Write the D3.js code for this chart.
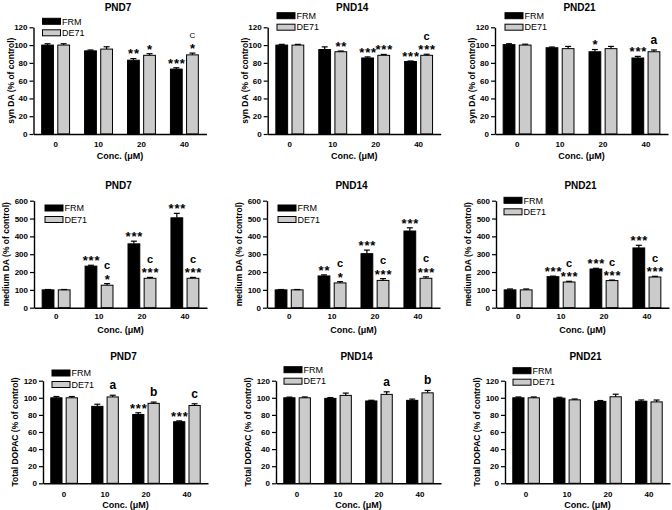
<!DOCTYPE html>
<html><head><meta charset="utf-8">
<script src="https://cdn.jsdelivr.net/npm/d3@7"></script>
<style>
body{margin:0;background:#fff}
svg{display:block}
text{font-family:"Liberation Sans",Arial,Helvetica,sans-serif}
</style>
</head><body>
<svg id="chart" width="672" height="510"></svg>
<script>
// ---------- data ----------
const categories = ["0", "10", "20", "40"];
const seriesNames = ["FRM", "DE71"];
const ages = ["PND7", "PND14", "PND21"];
const measureLabels = ["syn DA (% of control)", "medium DA (% of control)", "Total DOPAC (% of control)"];
const xAxisLabel = "Conc. (\u03bcM)";
const yTicksSyn = [0, 20, 40, 60, 80, 100, 120];
const yTicksMedium = [0, 100, 200, 300, 400, 500, 600];
const yTicksDopac = [0, 20, 40, 60, 80, 100, 120];

// rows: PND7, PND14, PND21 ; columns: 0, 10, 20, 40 µM
const synFRM      = [[100, 93.5, 83, 73], [100, 95, 85.5, 81.5], [100.5, 97, 92.5, 85.5]];
const synFRMErr   = [[1.5, 1, 1.8, 1.5], [0.8, 3, 1.2, 0.6], [1, 0.8, 2.5, 1.8]];
const synDE71     = [[100, 95.5, 88.5, 89], [100, 92.5, 88.5, 88.5], [100, 96, 96, 92.5]];
const synDE71Err  = [[1.5, 2.6, 1.8, 2], [0.8, 0.8, 1, 1.2], [1, 2.5, 2.5, 2]];
const synFRMSig   = [["", "", "**", "***"], ["", "", "***", "***"], ["", "", "*", "***"]];
const synDE71Sig  = [["", "", "*", "*"], ["", "**", "***", "***"], ["", "", "", ""]];
const synDE71Let  = [["", "", "", "C"], ["", "", "", "c"], ["", "", "", "a"]];

const medFRM      = [[100, 233, 358, 504], [100, 178, 303, 430], [100, 174, 217, 335]];
const medFRMErr   = [[2, 5, 15, 25], [2, 6, 20, 18], [5, 3, 4, 15]];
const medDE71     = [[100, 126, 165, 165], [100, 139, 153, 165], [100, 144, 152, 172]];
const medDE71Err  = [[2, 9, 5, 5], [2, 7, 10, 8], [5, 4, 3, 4]];
const medFRMSig   = [["", "***", "***", "***"], ["", "**", "***", "***"], ["", "***", "***", "***"]];
const medDE71Sig  = [["", "*", "***", "***"], ["", "*", "***", "***"], ["", "***", "***", "***"]];
const medDE71Let  = [["", "c", "c", "c"], ["", "c", "c", "c"], ["", "c", "c", "c"]];

const dopFRM      = [[100, 90, 80.5, 72], [100, 99.3, 96.3, 97], [100, 99.6, 95.8, 96]];
const dopFRMErr   = [[1.5, 2.5, 2, 1], [0.8, 1, 0.8, 1.5], [1, 1, 1, 1.5]];
const dopDE71     = [[100, 101, 93.5, 91], [100, 102.8, 104, 105.8], [100, 97.6, 101.2, 95.2]];
const dopDE71Err  = [[1.5, 2, 1.5, 2], [1, 2.7, 3, 2.8], [1, 1, 3, 2.2]];
const dopFRMSig   = [["", "", "***", "***"], ["", "", "", ""], ["", "", "", ""]];
const dopDE71Sig  = [["", "", "", ""], ["", "", "", ""], ["", "", "", ""]];
const dopDE71Let  = [["", "a", "b", "c"], ["", "", "a", "b"], ["", "", "", ""]];

const colors = {FRM: "#000000", DE71: "#cbcbcb"};

// ---------- layout ----------
const rowLayout = [
  {y0: 134,   yTop: 27.3,  w: 173, titleDy: -16.3, catDy: 13,   yLabOff: 23},
  {y0: 307.7, yTop: 200.7, w: 173, titleDy: -12,   catDy: 11.5, yLabOff: 28},
  {y0: 483.3, yTop: 380.7, w: 165, titleDy: -20.4, catDy: 13.5, yLabOff: 28}
];
const axisXs = [[33.5, 267.7, 495], [34, 267, 496], [43, 276, 505]];
const legendPos = [
  [[42.5, 18.3], [277, 12.7], [505, 12.7]],
  [[45, 205], [278, 205], [504, 197.3]],
  [[52, 370], [284, 366.7], [513, 367.7]]
];

const measures = [
  {label: measureLabels[0], ticks: yTicksSyn, frm: synFRM, frmErr: synFRMErr, de: synDE71, deErr: synDE71Err, frmSig: synFRMSig, deSig: synDE71Sig, deLet: synDE71Let},
  {label: measureLabels[1], ticks: yTicksMedium, frm: medFRM, frmErr: medFRMErr, de: medDE71, deErr: medDE71Err, frmSig: medFRMSig, deSig: medDE71Sig, deLet: medDE71Let},
  {label: measureLabels[2], ticks: yTicksDopac, frm: dopFRM, frmErr: dopFRMErr, de: dopDE71, deErr: dopDE71Err, frmSig: dopFRMSig, deSig: dopDE71Sig, deLet: dopDE71Let}
];

const svg = d3.select("#chart");

measures.forEach((m, r) => {
  const L = rowLayout[r];
  ages.forEach((age, c) => {
    const ax = axisXs[r][c];
    const g = svg.append("g");
    const y = d3.scaleLinear().domain([0, d3.max(m.ticks)]).range([L.y0, L.yTop]);
    const x0 = d3.scaleBand().domain(categories).range([ax, ax + L.w]).paddingInner(0.35).paddingOuter(0.19);
    const x1 = d3.scaleBand().domain(seriesNames).range([0, x0.bandwidth()]).paddingInner(0.27);

    // bars
    const rows = [];
    categories.forEach((cat, i) => {
      rows.push({cat, s: "FRM", v: m.frm[c][i], e: m.frmErr[c][i], sig: m.frmSig[c][i], let: ""});
      rows.push({cat, s: "DE71", v: m.de[c][i], e: m.deErr[c][i], sig: m.deSig[c][i], let: m.deLet[c][i]});
    });
    rows.forEach(d => {
      const bx = x0(d.cat) + x1(d.s);
      const bw = x1.bandwidth();
      const cx = bx + bw / 2;
      g.append("rect").attr("x", bx).attr("y", y(d.v)).attr("width", bw).attr("height", y(0) - y(d.v))
        .attr("fill", colors[d.s]).attr("stroke", "#000").attr("stroke-width", 1);
      const et = y(d.v + d.e);
      g.append("line").attr("x1", cx).attr("x2", cx).attr("y1", y(d.v)).attr("y2", et)
        .attr("stroke", "#000").attr("stroke-width", 1.2);
      g.append("line").attr("x1", cx - 3).attr("x2", cx + 3).attr("y1", et).attr("y2", et)
        .attr("stroke", "#000").attr("stroke-width", 1.2);
      let starC = et - 7.5;
      if (d.sig) {
        g.append("text").attr("x", cx + 0.5).attr("y", starC + 7.4).attr("text-anchor", "middle")
          .attr("font-size", 13).attr("font-weight", "bold").attr("letter-spacing", 0.8)
          .text(d.sig);
      }
      if (d.let) {
        const lc = d.sig ? starC - 10 : et - 9.5;
        if (d.let === "C") {
          g.append("text").attr("x", cx).attr("y", lc + 2.9).attr("text-anchor", "middle")
            .attr("font-size", 8).text(d.let);
        } else {
          const fs = d.let === "c" && r !== 2 ? 11 : 12;
          g.append("text").attr("x", cx).attr("y", lc + 0.28 * fs).attr("text-anchor", "middle")
            .attr("font-size", fs).attr("font-weight", "bold").text(d.let);
        }
      }
    });

    // y axis
    const ya = g.append("g").attr("transform", `translate(${ax},0)`)
      .call(d3.axisLeft(y).tickValues(m.ticks).tickSize(4).tickSizeOuter(0).tickPadding(2));
    ya.select(".domain").attr("stroke-width", 1.4);
    ya.selectAll(".tick line").attr("stroke-width", 1.2);
    ya.selectAll(".tick text").attr("font-size", 8).attr("font-weight", "bold")
      .attr("font-family", "Liberation Sans, Arial, sans-serif").attr("fill", "#000");

    // x axis
    const xa = g.append("g").attr("transform", `translate(0,${L.y0})`)
      .call(d3.axisBottom(x0).tickSize(0).tickSizeOuter(0));
    xa.select(".domain").attr("stroke-width", 1.4);
    xa.selectAll(".tick text").attr("y", L.catDy).attr("dy", null).attr("font-size", 8).attr("font-weight", "bold")
      .attr("font-family", "Liberation Sans, Arial, sans-serif").attr("fill", "#000");

    // title
    g.append("text").attr("x", ax + L.w / 2 - 2).attr("y", L.yTop + L.titleDy).attr("text-anchor", "middle")
      .attr("font-size", 10).attr("font-weight", "bold").text(age);
    // x label
    g.append("text").attr("x", ax + L.w / 2).attr("y", L.y0 + 25).attr("text-anchor", "middle")
      .attr("font-size", 9).attr("font-weight", "bold").text(xAxisLabel);
    // y label
    g.append("text").attr("transform", `translate(${ax - L.yLabOff + 3},${(L.y0 + L.yTop) / 2}) rotate(-90)`)
      .attr("text-anchor", "middle").attr("font-size", 8.5).attr("font-weight", "bold").text(m.label);

    // legend
    const [lx, ly] = legendPos[r][c];
    seriesNames.forEach((s, i) => {
      g.append("rect").attr("x", lx).attr("y", ly + i * 11.5).attr("width", 18).attr("height", 6)
        .attr("fill", colors[s]).attr("stroke", "#000").attr("stroke-width", 1);
      g.append("text").attr("x", lx + 19.5).attr("y", ly + i * 11.5 + 3 + 3.2)
        .attr("font-size", 9).text(s);
    });
  });
});
</script>
</body></html>
